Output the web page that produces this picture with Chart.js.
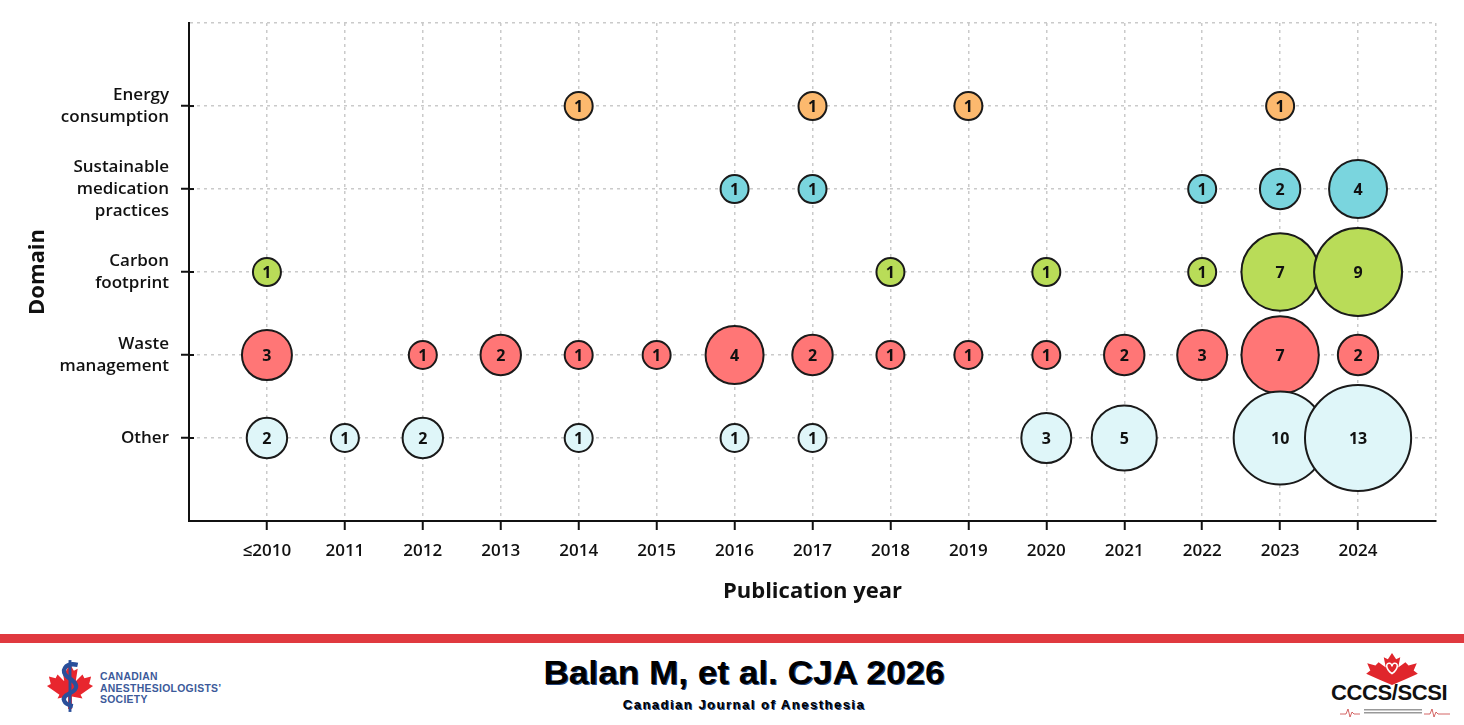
<!DOCTYPE html>
<html>
<head>
<meta charset="utf-8">
<script src="https://cdn.jsdelivr.net/npm/chart.js@4"></script>
<style>
  html, body { margin: 0; padding: 0; background: #fff; width: 1464px; height: 725px; overflow: hidden; }
  #wrap { position: absolute; left: 0; top: 0; width: 1464px; height: 632px; }
  #redbar { position: absolute; left: 0; top: 634px; width: 1464px; height: 9px; background: #e0393f; }
  #title { position: absolute; left: 544px; width: 400px; top: 654px; text-align: center; font-family: "Liberation Sans", Arial, sans-serif; font-weight: bold; font-size: 33px; color: #000; text-shadow: 1px 1px 0 #24467e; transform: scaleX(1.065); transform-origin: center; white-space: nowrap; }
  #subtitle { position: absolute; left: 544px; width: 400px; top: 697px; text-align: center; font-family: "Liberation Sans", Arial, sans-serif; font-weight: bold; font-size: 13px; letter-spacing: 1.5px; color: #000; text-shadow: 1px 1px 0 #24467e; white-space: nowrap; }
  #caslogo { position: absolute; left: 46px; top: 660px; }
  #castext { position: absolute; left: 100px; top: 671px; font-family: "Liberation Sans", Arial, sans-serif; font-weight: bold; font-size: 10.4px; line-height: 11.5px; color: #3c5a9a; letter-spacing: 0.3px; }
  #ccslogo { position: absolute; left: 1366px; top: 653px; }
  #ccstext { position: absolute; left: 1331px; top: 680px; font-family: "Liberation Sans", Arial, sans-serif; font-weight: bold; font-size: 22px; color: #111; letter-spacing: -0.4px; }
  #ccssmall { position: absolute; left: 1340px; top: 706px; width: 110px; height: 12px; }
</style>
</head>
<body>
<div id="wrap"><canvas id="c"></canvas></div>
<div id="redbar"></div>
<div id="title">Balan M, et al. CJA 2026</div>
<div id="subtitle">Canadian Journal of Anesthesia</div>
<svg id="caslogo" width="48" height="52" viewBox="0 0 100 108">
  <polygon fill="#e8262e" points="50,8 58,22 66,18 62,44 76,30 80,38 94,34 90,50 98,54 72,72 76,80 54,76 54,102 46,102 46,76 24,80 28,72 2,54 10,50 6,34 20,38 24,30 38,44 34,18 42,22"/>
  <line x1="50" y1="0" x2="50" y2="108" stroke="#2a4f9a" stroke-width="6"/>
  <path d="M66,10 C40,4 28,24 46,36 C66,48 70,60 48,70 C30,78 36,92 56,96" fill="none" stroke="#2a4f9a" stroke-width="9"/>
</svg>
<div id="castext">CANADIAN<br>ANESTHESIOLOGISTS’<br>SOCIETY</div>
<svg id="ccslogo" width="52" height="32" viewBox="0 0 100 62">
  <polygon fill="#e0262c" points="50,0 58,12 66,8 62,28 76,18 82,24 98,20 92,34 100,40 74,52 50,62 26,52 0,40 8,34 2,20 18,24 24,18 38,28 34,8 42,12"/>
  <path d="M50,40 C36,30 38,18 46,20 C49,21 50,24 50,26 C50,24 51,21 54,20 C62,18 64,30 50,40 Z" fill="none" stroke="#fff" stroke-width="3"/>
</svg>
<div id="ccstext">CCCS/SCSI</div>
<svg id="ccssmall" viewBox="0 0 110 12">
  <polyline fill="none" stroke="#c9403f" stroke-width="0.8" points="0,8 6,8 8,3 10,11 12,6 14,8 20,8"/>
  <rect x="24" y="3" width="58" height="1.5" fill="#999"/>
  <rect x="24" y="6" width="58" height="1.5" fill="#999"/>
  <polyline fill="none" stroke="#c9403f" stroke-width="0.8" points="84,8 90,8 92,3 94,11 96,6 98,8 110,8"/>
</svg>
<script>
// ---- data ----
const yearLabels = ['≤2010','2011','2012','2013','2014','2015','2016','2017','2018','2019','2020','2021','2022','2023','2024'];
const domainNames = ['Other','Waste management','Carbon footprint','Sustainable medication practices','Energy consumption'];
const domainTickLabels = [['Other'],['Waste','management'],['Carbon','footprint'],['Sustainable','medication','practices'],['Energy','consumption']];
const otherCounts      = [2,1,2,0,1,0,1,1,0,0,3,5,0,10,13];
const wasteCounts      = [3,0,1,2,1,1,4,2,1,1,1,2,3,7,2];
const carbonCounts     = [1,0,0,0,0,0,0,0,1,0,1,0,1,7,9];
const medicationCounts = [0,0,0,0,0,0,1,1,0,0,0,0,1,2,4];
const energyCounts     = [0,0,0,0,1,0,0,1,0,1,0,0,0,1,0];
const domainColors = ['#dff6f9','#ff7676','#b9dc58','#7ad5de','#fcb96e'];

const countsByDomain = [otherCounts, wasteCounts, carbonCounts, medicationCounts, energyCounts];

function points(counts, domainIdx) {
  const out = [];
  counts.forEach((v, i) => { if (v > 0) out.push({ x: i, y: domainIdx + 1, v: v }); });
  return out;
}

const datasets = countsByDomain.map((counts, d) => ({
  label: domainNames[d],
  data: points(counts, d),
  backgroundColor: domainColors[d],
  borderColor: '#1a1a1a',
  borderWidth: 2,
  radius: ctx => 15.0 * Math.sqrt(ctx.raw ? ctx.raw.v : 1) - 1
}));

const FONT = '"Open Sans", "Noto Sans", sans-serif';

const bubbleLabels = {
  id: 'bubbleLabels',
  afterDatasetsDraw(chart) {
    const ctx = chart.ctx;
    ctx.save();
    ctx.font = '700 16px ' + FONT;
    ctx.fillStyle = '#111';
    ctx.textAlign = 'center';
    ctx.textBaseline = 'middle';
    chart.data.datasets.forEach((ds, i) => {
      const meta = chart.getDatasetMeta(i);
      meta.data.forEach((el, j) => {
        ctx.fillText(String(ds.data[j].v), el.x, el.y + 1);
      });
    });
    ctx.restore();
  },
  afterDraw(chart) {
    // inner part of tick marks crossing the y axis
    const ctx = chart.ctx;
    const ys = chart.scales.y;
    ctx.save();
    ctx.strokeStyle = '#111';
    ctx.lineWidth = 2;
    for (let v = 1; v <= domainNames.length; v++) {
      const py = ys.getPixelForValue(v);
      ctx.beginPath(); ctx.moveTo(chart.chartArea.left, py); ctx.lineTo(chart.chartArea.left + 5, py); ctx.stroke();
    }
    ctx.restore();
  }
};

const tickColor = (lo, hi) => ctx => (ctx.tick && ctx.tick.value >= lo && ctx.tick.value <= hi) ? '#111' : 'rgba(0,0,0,0)';

new Chart(document.getElementById('c'), {
  type: 'bubble',
  data: { datasets },
  plugins: [bubbleLabels],
  options: {
    responsive: true,
    maintainAspectRatio: false,
    animation: false,
    events: [],
    layout: { autoPadding: false, padding: { top: 21, right: 28, left: 0, bottom: 0 } },
    plugins: { legend: { display: false }, tooltip: { enabled: false } },
    scales: {
      x: {
        type: 'linear',
        min: -1, max: 15,
        afterFit: s => { s.height = 111; },
        ticks: {
          stepSize: 1, autoSkip: false, maxRotation: 0,
          padding: 11,
          color: '#111',
          font: { family: FONT, size: 17, weight: 600 },
          callback: v => (Number.isInteger(v) && yearLabels[v] !== undefined) ? yearLabels[v] : ''
        },
        grid: { color: '#cacaca', lineWidth: 1.5, tickColor: tickColor(0, 14), tickLength: 9, tickWidth: 2 },
        border: { display: true, color: '#111', width: 2, dash: [3, 4] },
        title: { display: true, text: 'Publication year', color: '#111', font: { family: FONT, size: 22, weight: 'bold' }, padding: { top: 0, bottom: 27 } }
      },
      y: {
        type: 'linear',
        min: 0, max: 6,
        afterFit: s => { s.width = 189; },
        ticks: {
          stepSize: 1, autoSkip: false,
          padding: 12,
          color: '#111',
          font: { family: FONT, size: 17, weight: 600, lineHeight: 1.3 },
          callback: v => (Number.isInteger(v) && domainTickLabels[v - 1] !== undefined) ? domainTickLabels[v - 1] : ''
        },
        grid: { color: '#cacaca', lineWidth: 1.5, tickColor: tickColor(1, 5), tickLength: 8, tickWidth: 2 },
        border: { display: true, color: '#111', width: 2, dash: [3, 4] },
        title: { display: true, text: 'Domain', color: '#111', font: { family: FONT, size: 22, weight: 'bold' }, padding: { top: 25, bottom: 25 } }
      }
    }
  }
});
</script>
</body>
</html>
